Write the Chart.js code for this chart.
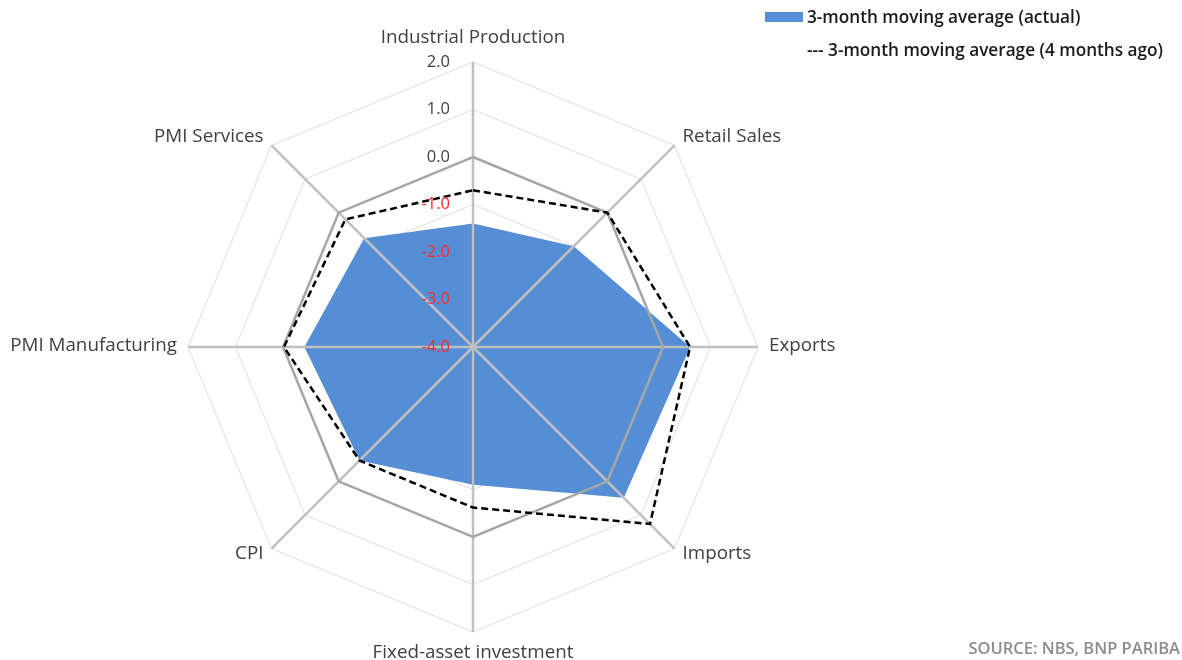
<!DOCTYPE html>
<html>
<head>
<meta charset="utf-8">
<script src="https://cdn.jsdelivr.net/npm/chart.js@4.4.1/dist/chart.umd.min.js"></script>
<style>
  html, body { margin: 0; padding: 0; background: #fff; }
  #wrap { position: relative; width: 1182px; height: 660px; font-family: "Open Sans", Lato, sans-serif; }
  #legend { position: absolute; left: 765px; top: 5px; font-size: 17.2px; font-weight: 600; color: #1a1a1a; }
  #legend div { height: 24px; line-height: 24px; white-space: nowrap; margin-bottom: 9px; }
  #legend .box { display: inline-block; width: 38px; height: 10px; background: #558ed5; vertical-align: middle; margin-right: 4px; margin-top: -3px; }
  #legend .pad { display: inline-block; width: 42px; }
  #source { position: absolute; right: 2px; top: 636px; font-size: 16.5px; color: #8c8c8c; font-weight: 600; }
</style>
</head>
<body>
<div id="wrap">
  <canvas id="radar"></canvas>
  <div id="legend">
    <div><span class="box"></span>3-month moving average (actual)</div>
    <div><span class="pad"></span>--- 3-month moving average (4 months ago)</div>
  </div>
  <div id="source">SOURCE: NBS, BNP PARIBA</div>
</div>
<script>
// Data
const categories = ['Industrial Production', 'Retail Sales', 'Exports', 'Imports',
  'Fixed-asset investment', 'CPI', 'PMI Manufacturing', 'PMI Services'];
const actual = [-1.4, -1.0, 0.57, 0.49, -1.1, -0.62, -0.45, -0.76];
const fourMonthsAgo = [-0.7, 0.0, 0.57, 1.27, -0.62, -0.62, -0.02, -0.2];
const tickValues = [-4, -3, -2, -1, 0, 1, 2];

// Spokes + zero ring drawn over the blue fill, labels on top
const overlay = {
  id: 'overlay',
  afterDatasetDraw(chart, args) {
    if (args.index !== 0) return;
    const r = chart.scales.r, ctx = chart.ctx;
    ctx.save();
    ctx.strokeStyle = '#c0c0c0';
    ctx.lineWidth = 2.5;
    categories.forEach((c, i) => {
      const p = r.getPointPositionForValue(i, r.max);
      ctx.beginPath();
      ctx.moveTo(r.xCenter, r.yCenter);
      ctx.lineTo(p.x, p.y);
      ctx.stroke();
    });
    ctx.strokeStyle = '#a6a6a6';
    ctx.beginPath();
    categories.forEach((c, i) => {
      const p = r.getPointPositionForValue(i, 0);
      if (i === 0) ctx.moveTo(p.x, p.y); else ctx.lineTo(p.x, p.y);
    });
    ctx.closePath();
    ctx.stroke();
    ctx.restore();
  },
  afterDraw(chart) {
    const r = chart.scales.r, ctx = chart.ctx;
    ctx.save();
    // tick labels
    ctx.font = '16.5px "Open Sans"';
    ctx.textAlign = 'right';
    ctx.textBaseline = 'middle';
    tickValues.forEach(v => {
      const p = r.getPointPositionForValue(0, v);
      ctx.fillStyle = v < 0 ? '#ff2a2a' : '#404040';
      ctx.fillText(v.toFixed(1), r.xCenter - 23, p.y);
    });
    // point labels
    ctx.font = '18.8px "Open Sans"';
    ctx.fillStyle = '#404040';
    categories.forEach((c, i) => {
      const p = r.getPointPositionForValue(i, r.max);
      const dx = p.x - r.xCenter, dy = p.y - r.yCenter;
      if (Math.abs(dx) < 1) {
        ctx.textAlign = 'center';
        ctx.textBaseline = 'alphabetic';
        ctx.fillText(c, p.x, dy < 0 ? p.y - 19 : p.y + 26);
      } else {
        ctx.textAlign = dx > 0 ? 'left' : 'right';
        ctx.textBaseline = 'middle';
        const off = Math.abs(dy) < 1 ? 11 : 8;
        const yOff = Math.abs(dy) < 1 ? -1 : (dy < 0 ? -9 : 5);
        ctx.fillText(c, p.x + (dx > 0 ? off : -off), p.y + yOff);
      }
    });
    ctx.restore();
  }
};

new Chart(document.getElementById('radar'), {
  type: 'radar',
  data: {
    labels: categories,
    datasets: [
      {
        label: '3-month moving average (actual)',
        data: actual,
        backgroundColor: '#558ed5',
        borderWidth: 0,
        fill: 'start',
        pointRadius: 0,
        order: 2
      },
      {
        label: '3-month moving average (4 months ago)',
        data: fourMonthsAgo,
        borderColor: '#000',
        borderWidth: 2.5,
        borderDash: [7, 4],
        fill: false,
        pointRadius: 0,
        order: 1
      }
    ]
  },
  options: {
    responsive: true,
    maintainAspectRatio: false,
    animation: false,
    layout: { padding: { left: 188, right: 424, top: 62, bottom: 28 } },
    plugins: { legend: { display: false }, tooltip: { enabled: false } },
    scales: {
      r: {
        min: -4,
        max: 2,
        ticks: { display: false, stepSize: 1 },
        pointLabels: { display: false },
        angleLines: { display: false },
        grid: { color: '#dcdcdc', lineWidth: 1 }
      }
    }
  },
  plugins: [overlay]
});
</script>
</body>
</html>
